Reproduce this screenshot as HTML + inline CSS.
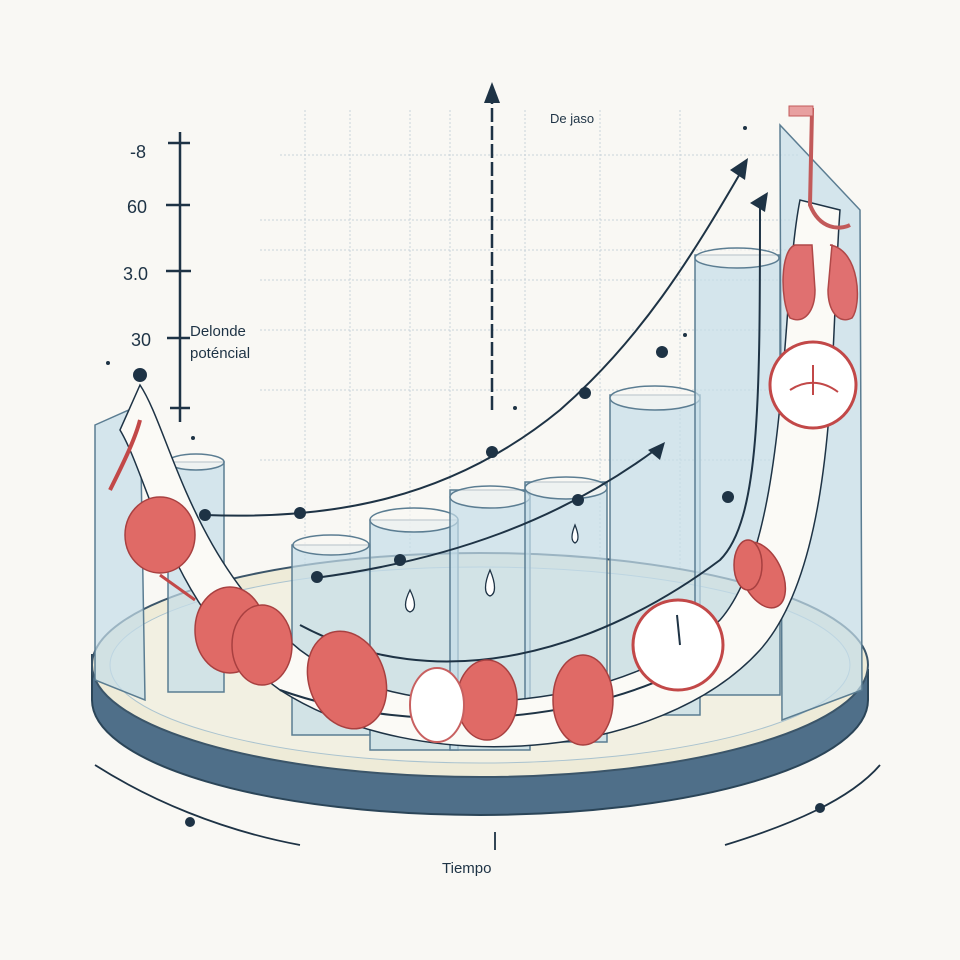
<!DOCTYPE html>
<html><head><meta charset="utf-8"><style>
html,body{margin:0;padding:0;background:#f9f8f4;}
svg{display:block}
text{font-family:"Liberation Sans",sans-serif;fill:#1e3345}
</style></head><body>
<svg width="960" height="960" viewBox="0 0 960 960" xmlns="http://www.w3.org/2000/svg">
<rect width="960" height="960" fill="#f9f8f4"/>
<!-- grid -->
<g stroke="#c9d3da" stroke-width="1" stroke-dasharray="2,2">
<line x1="280" y1="155" x2="800" y2="155"/><line x1="260" y1="220" x2="800" y2="220"/>
<line x1="260" y1="250" x2="800" y2="250"/><line x1="260" y1="280" x2="800" y2="280"/>
<line x1="260" y1="330" x2="800" y2="330"/><line x1="260" y1="390" x2="800" y2="390"/>
<line x1="260" y1="460" x2="800" y2="460"/>
<line x1="305" y1="110" x2="305" y2="650"/><line x1="350" y1="110" x2="350" y2="650"/>
<line x1="410" y1="110" x2="410" y2="650"/><line x1="450" y1="110" x2="450" y2="650"/>
<line x1="525" y1="110" x2="525" y2="650"/><line x1="600" y1="110" x2="600" y2="650"/>
<line x1="680" y1="110" x2="680" y2="650"/>
</g>
<!-- axis -->
<g stroke="#1e3345" stroke-width="2.5" fill="none">
<line x1="180" y1="132" x2="180" y2="422"/>
<line x1="168" y1="143" x2="190" y2="143"/><line x1="166" y1="205" x2="190" y2="205"/>
<line x1="166" y1="271" x2="191" y2="271"/><line x1="167" y1="338" x2="190" y2="338"/>
<line x1="170" y1="408" x2="190" y2="408"/>
<line x1="492" y1="410" x2="492" y2="100" stroke-dasharray="14,4"/>
</g>
<polygon points="492,82 484,103 500,103" fill="#1e3345"/>
<text x="130" y="158" font-size="18">-8</text>
<text x="127" y="213" font-size="18">60</text>
<text x="123" y="280" font-size="18">3.0</text>
<text x="131" y="346" font-size="18">30</text>
<text x="190" y="336" font-size="15">Delonde</text>
<text x="190" y="358" font-size="15">poténcial</text>
<text x="550" y="123" font-size="13">De jaso</text>
<text x="442" y="873" font-size="15">Tiempo</text>
<!-- base platform -->
<path d="M92,655 L92,700 A388,115 0 0 0 868,700 L868,670 Z" fill="#4f6f89" stroke="#2b4558" stroke-width="2"/>
<ellipse cx="480" cy="665" rx="388" ry="112" fill="#eeebd8" stroke="#3b5569" stroke-width="2"/>
<ellipse cx="480" cy="665" rx="370" ry="98" fill="#f2f0e2" stroke="#aac3cf" stroke-width="1"/>
<!-- glass walls -->
<g fill="#c4dde8" fill-opacity="0.7" stroke="#5b7d92" stroke-width="1.5">
<path d="M95,425 L140,405 L145,700 L95,680 Z"/>
<path d="M780,125 L860,210 L862,690 L782,720 Z"/>
<rect x="168" y="462" width="56" height="230"/>
<ellipse cx="196" cy="462" rx="28" ry="8" fill="#f9f8f4"/>
<rect x="292" y="545" width="78" height="190"/>
<ellipse cx="331" cy="545" rx="38" ry="10" fill="#f9f8f4"/>
<rect x="370" y="520" width="88" height="230"/>
<ellipse cx="414" cy="520" rx="44" ry="12" fill="#f9f8f4"/>
<rect x="450" y="490" width="80" height="260"/>
<ellipse cx="490" cy="497" rx="40" ry="11" fill="#f9f8f4"/>
<rect x="525" y="482" width="82" height="260"/>
<ellipse cx="566" cy="488" rx="41" ry="11" fill="#f9f8f4"/>
<rect x="610" y="395" width="90" height="320"/>
<ellipse cx="655" cy="398" rx="45" ry="12" fill="#f9f8f4"/>
<rect x="695" y="255" width="85" height="440"/>
<ellipse cx="737" cy="258" rx="42" ry="10" fill="#f9f8f4"/>
</g>
<!-- big white ribbon -->
<path d="M140,385 C170,430 190,560 300,650 C420,740 640,700 720,620 C790,540 780,300 800,200 L840,210 C830,340 840,560 760,650 C660,760 420,780 280,690 C170,610 150,480 120,430 Z" fill="#fbfaf6" stroke="#1e3345" stroke-width="1.5"/>
<!-- curves -->
<g stroke="#1e3345" stroke-width="2" fill="none">
<path d="M205,515 C330,520 450,500 560,410 C640,340 690,260 745,165"/>
<path d="M315,578 C450,560 560,520 655,450"/>
<path d="M300,625 C440,700 600,650 720,560 C760,520 760,400 760,200"/>
<path d="M280,690 C420,740 600,720 700,660"/>
</g>
<polygon points="748,158 730,170 745,180" fill="#1e3345"/>
<polygon points="768,192 750,203 765,212" fill="#1e3345"/>
<polygon points="665,442 648,450 660,460" fill="#1e3345"/>
<g fill="#1e3345">
<circle cx="205" cy="515" r="6"/><circle cx="300" cy="513" r="6"/><circle cx="492" cy="452" r="6"/>
<circle cx="585" cy="393" r="6"/><circle cx="662" cy="352" r="6"/><circle cx="317" cy="577" r="6"/>
<circle cx="400" cy="560" r="6"/><circle cx="578" cy="500" r="6"/><circle cx="728" cy="497" r="6"/>
<circle cx="140" cy="375" r="7"/><circle cx="108" cy="363" r="2"/><circle cx="193" cy="438" r="2"/>
<circle cx="745" cy="128" r="2"/><circle cx="515" cy="408" r="2"/><circle cx="685" cy="335" r="2"/>
</g>
<!-- drops -->
<g fill="#fff" stroke="#1e3345" stroke-width="1.3">
<path d="M410,590 C404,602 404,610 410,612 C416,610 416,602 410,590Z"/>
<path d="M490,570 C484,584 484,594 490,596 C496,594 496,584 490,570Z"/>
<path d="M575,525 C571,535 571,541 575,543 C579,541 579,535 575,525Z"/>
</g>
<!-- lungs tube -->
<path d="M790,110 L812,110 L810,205 C820,230 840,230 850,225" fill="none" stroke="#c25a5a" stroke-width="4"/>
<rect x="789" y="106" width="24" height="10" fill="#e8a0a0" stroke="#c25a5a"/>
<path d="M795,245 C780,250 780,300 790,318 C805,325 815,310 815,290 L812,245 Z" fill="#e07070" stroke="#b04848" stroke-width="1.5"/>
<path d="M830,245 C860,250 862,305 852,318 C838,325 828,310 828,290 L832,245 Z" fill="#e07070" stroke="#b04848" stroke-width="1.5"/>
<circle cx="813" cy="385" r="43" fill="#fff" stroke="#c24848" stroke-width="3"/>
<path d="M790,390 C805,380 822,380 838,392 M813,365 L813,395" stroke="#c24848" stroke-width="2" fill="none"/>
<!-- clock -->
<circle cx="678" cy="645" r="45" fill="#fff" stroke="#c24848" stroke-width="3"/>
<line x1="677" y1="615" x2="680" y2="645" stroke="#1e3345" stroke-width="2"/>
<!-- organs -->
<g fill="#e06a66" stroke="#a84040" stroke-width="1.5">
<ellipse cx="160" cy="535" rx="35" ry="38"/>
<ellipse cx="230" cy="630" rx="35" ry="43"/>
<ellipse cx="262" cy="645" rx="30" ry="40"/>
<ellipse cx="347" cy="680" rx="38" ry="50" transform="rotate(-20 347 680)"/>
<ellipse cx="487" cy="700" rx="30" ry="40"/>
<ellipse cx="583" cy="700" rx="30" ry="45"/>
<ellipse cx="762" cy="575" rx="20" ry="35" transform="rotate(-25 762 575)"/>
<ellipse cx="748" cy="565" rx="14" ry="25"/>
</g>
<ellipse cx="437" cy="705" rx="27" ry="37" fill="#fff" stroke="#c86060" stroke-width="2"/>
<path d="M110,490 C120,470 135,440 140,420" stroke="#c24848" stroke-width="4" fill="none"/>
<path d="M160,575 L195,600" stroke="#c24848" stroke-width="3"/>
<!-- bottom arcs -->
<g stroke="#1e3345" stroke-width="1.8" fill="none">
<path d="M95,765 C150,800 220,830 300,845"/>
<path d="M725,845 C790,825 850,800 880,765"/>
<line x1="495" y1="832" x2="495" y2="850"/>
</g>
<circle cx="190" cy="822" r="5" fill="#1e3345"/><circle cx="820" cy="808" r="5" fill="#1e3345"/>
</svg>
</body></html>
